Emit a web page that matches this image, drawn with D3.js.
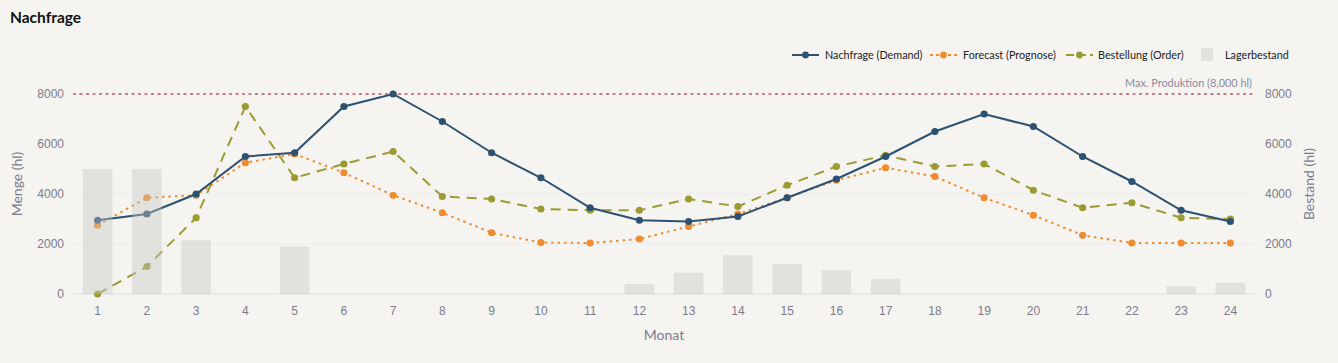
<!DOCTYPE html>
<html><head><meta charset="utf-8">
<script src="https://cdn.jsdelivr.net/npm/d3@7"></script>
<style>
html,body{margin:0;padding:0;background:#f5f4f0;}
svg{display:block;font-family:"Source Sans Pro","Lato","Noto Sans",sans-serif;}
</style></head>
<body><svg id="c" width="1338" height="363"></svg>
<script>
const months = d3.range(1, 25);
const demand = [2950,3200,4000,5500,5650,7500,8000,6900,5650,4650,3450,2950,2900,3100,3850,4600,5500,6500,7200,6700,5500,4500,3350,2900];
const forecast = [2750,3850,3950,5250,5600,4850,3950,3250,2450,2060,2040,2200,2700,3200,3850,4550,5050,4700,3850,3150,2350,2040,2040,2040];
const order = [0,1100,3050,7500,4650,5200,5700,3900,3800,3400,3350,3350,3800,3500,4350,5100,5550,5100,5200,4150,3450,3650,3050,3000];
const stock = [5000,5000,2150,0,1900,0,0,0,0,0,0,400,850,1550,1200,950,600,0,0,0,0,0,300,450];
const yTicks = [0,2000,4000,6000,8000];
const maxProd = 8000;
const legendLabels = ["Nachfrage (Demand)","Forecast (Prognose)","Bestellung (Order)","Lagerbestand"];

const svg = d3.select("#c");
const L = 73, R = 1255, T = 94, B = 294;
const x = d3.scaleBand().domain(months).range([L, R]).paddingInner(0.4).paddingOuter(0.2);
const xc = d => x(d) + x.bandwidth()/2;
const y = d3.scaleLinear().domain([0, 8000]).range([B, T]);
const y2 = d3.scaleLinear().domain([0, 8000]).range([B, T]);
const axisCol = "#7b7b8e";
const fmt = d3.format("d");

svg.append("text").attr("x", 10).attr("y", 23).attr("font-size", 15.5).attr("font-weight", 700).attr("fill", "#111").text("Nachfrage");

// gridlines
svg.append("g").selectAll("line").data(yTicks.filter(t => t < 8000)).join("line")
  .attr("x1", L).attr("x2", R).attr("y1", d => y(d)).attr("y2", d => y(d))
  .attr("stroke", d => d === 0 ? "#e2e3ec" : "#ecebef").attr("stroke-width", d => d === 0 ? 1.5 : 1.2);

// axes
const ga = svg.append("g").attr("transform", `translate(${L},0)`).call(d3.axisLeft(y).tickValues(yTicks).tickFormat(fmt).tickSize(0).tickPadding(9));
ga.select(".domain").remove();
ga.selectAll("text").attr("font-size", 12).attr("fill", axisCol).attr("font-family", null);
const gb = svg.append("g").attr("transform", `translate(${R},0)`).call(d3.axisRight(y2).tickValues(yTicks).tickFormat(fmt).tickSize(0).tickPadding(10));
gb.select(".domain").remove();
gb.selectAll("text").attr("font-size", 12).attr("fill", axisCol).attr("font-family", null);
const gx = svg.append("g").attr("transform", `translate(0,${B})`).call(d3.axisBottom(x).tickSize(0).tickPadding(12));
gx.select(".domain").remove();
gx.selectAll("text").attr("font-size", 12).attr("fill", axisCol).attr("font-family", null);

svg.append("text").attr("transform", `translate(22,184) rotate(-90)`).attr("text-anchor", "middle").attr("font-size", 14).attr("fill", axisCol).text("Menge (hl)");
svg.append("text").attr("transform", `translate(1314,184) rotate(-90)`).attr("text-anchor", "middle").attr("font-size", 14).attr("fill", axisCol).text("Bestand (hl)");
svg.append("text").attr("x", (L+R)/2).attr("y", 340).attr("text-anchor", "middle").attr("font-size", 14).attr("fill", axisCol).text("Monat");

// max production line
svg.append("line").attr("x1", L).attr("x2", R).attr("y1", y(maxProd)).attr("y2", y(maxProd))
  .attr("stroke", "#b5566a").attr("stroke-width", 1.6).attr("stroke-dasharray", "3,3.5");
svg.append("text").attr("x", 1252).attr("y", 87).attr("text-anchor", "end").attr("font-size", 10.9).attr("fill", "#8a8a9c").text("Max. Produktion (8,000 hl)");

const series = [
  {vals: demand, color: "#2d5170", dash: null, w: 2},
  {vals: forecast, color: "#ef8c2f", dash: "2.5,4", w: 2},
  {vals: order, color: "#9b9b31", dash: "10,7", w: 2},
];
const line = d3.line().x((d,i) => xc(months[i])).y(d => y(d));
series.slice().reverse().forEach(s => {
  svg.append("path").datum(s.vals).attr("d", line).attr("fill", "none").attr("stroke", s.color)
    .attr("stroke-width", s.w).attr("stroke-dasharray", s.dash);
  svg.append("g").selectAll("circle").data(s.vals).join("circle")
    .attr("cx", (d,i) => xc(months[i])).attr("cy", d => y(d)).attr("r", 3.6).attr("fill", s.color);
});

// stock bars (overlay)
svg.append("g").selectAll("rect").data(stock).join("rect")
  .attr("x", (d,i) => x(months[i])).attr("width", x.bandwidth())
  .attr("y", d => y2(d)).attr("height", d => B - y2(d))
  .attr("fill", "#c6c6c6").attr("fill-opacity", 0.42);

// legend
const lg = svg.append("g").attr("font-size", 10.8).attr("fill", "#222");
const lx = [792, 930, 1066];
const tx = [825, 963, 1098];
series.forEach((s, i) => {
  lg.append("line").attr("x1", lx[i]).attr("x2", lx[i]+27).attr("y1", 55).attr("y2", 55)
    .attr("stroke", s.color).attr("stroke-width", 2).attr("stroke-dasharray", s.dash ? (i===1 ? "3,3" : "8,4") : null);
  lg.append("circle").attr("cx", lx[i]+13.5).attr("cy", 55).attr("r", 3.4).attr("fill", s.color);
  lg.append("text").attr("x", tx[i]).attr("y", 59).attr("fill", "#222").text(legendLabels[i]);
});
lg.append("rect").attr("x", 1201).attr("y", 48).attr("width", 12).attr("height", 13).attr("fill", "#c6c6c6").attr("fill-opacity", 0.42);
lg.append("text").attr("x", 1225).attr("y", 59).attr("fill", "#222").text(legendLabels[3]);
</script></body></html>
